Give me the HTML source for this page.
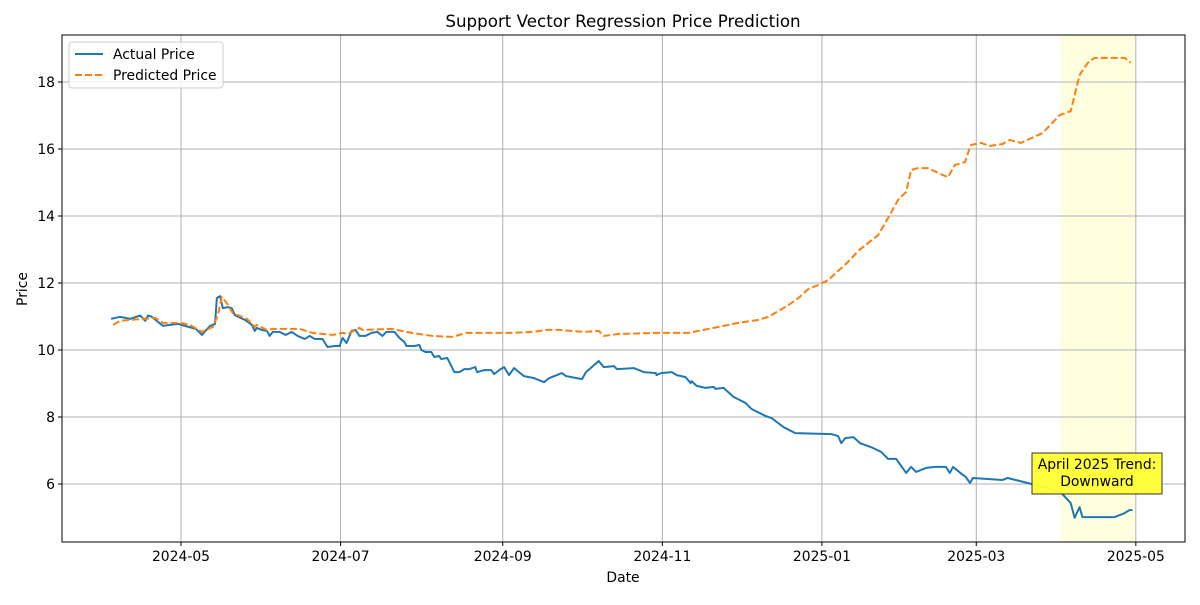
<!DOCTYPE html>
<html><head><meta charset="utf-8"><style>
body{margin:0;background:#fff;font-family:"Liberation Sans","DejaVu Sans",sans-serif}
svg text{font-family:"DejaVu Sans","Liberation Sans",sans-serif}
</style></head><body>
<svg id="chart" width="1200" height="600" xmlns="http://www.w3.org/2000/svg"></svg>
<script>
const tickDays=[0,61,123,184,245,304,365];
const tickLabels=["2024-05","2024-07","2024-09","2024-11","2025-01","2025-03","2025-05"];
const yTicks=[6,8,10,12,14,16,18];
const actualDays=[-26.7,-23.3,-19.4,-15.6,-13.7,-12.6,-11.1,-8.8,-6.9,-4.2,-1.1,1.5,5.7,8.0,11.1,13.0,13.7,14.9,16.0,17.9,19.4,20.6,24.4,27.1,28.2,29.0,30.9,32.8,33.9,35.1,37.7,40.0,42.3,44.6,47.3,49.2,51.1,54.1,56.0,58.7,60.6,61.8,63.3,65.2,66.7,68.2,70.5,72.8,75.1,77.0,78.5,81.6,83.5,85.4,86.2,89.2,91.1,91.9,93.4,95.7,96.8,98.7,99.5,101.8,104.5,106.4,108.3,110.2,112.5,113.2,115.9,118.6,119.7,121.6,123.5,125.4,127.3,129.2,131.1,135.0,138.8,140.7,145.6,147.2,153.3,154.8,159.7,161.6,165.5,166.6,173.1,176.9,181.5,181.8,183.4,187.6,189.5,192.9,194.8,195.2,197.1,200.5,203.6,204.3,207.4,211.2,215.8,216.9,218.1,223.4,225.7,230.3,234.8,248.6,251.2,252.4,253.9,257.0,259.6,263.8,267.6,270.3,273.4,277.2,279.1,281.0,284.8,288.2,292.4,293.9,295.1,298.9,300.0,301.6,302.7,314.1,316.0,323.7,336.2,340.1,341.6,343.5,344.6,356.8,360.7,362.5,363.7];
const actualVals=[10.93,10.99,10.93,11.03,10.87,11.03,10.99,10.84,10.72,10.75,10.78,10.72,10.63,10.45,10.72,10.78,11.55,11.61,11.25,11.28,11.25,11.04,10.90,10.75,10.57,10.66,10.60,10.57,10.42,10.54,10.54,10.45,10.54,10.42,10.33,10.42,10.33,10.33,10.09,10.12,10.12,10.36,10.21,10.57,10.60,10.42,10.42,10.51,10.54,10.42,10.54,10.54,10.36,10.24,10.12,10.12,10.15,10.00,9.94,9.94,9.79,9.82,9.73,9.76,9.34,9.34,9.43,9.43,9.49,9.34,9.40,9.40,9.28,9.40,9.49,9.25,9.46,9.34,9.22,9.16,9.04,9.16,9.31,9.22,9.13,9.34,9.67,9.49,9.52,9.43,9.46,9.34,9.31,9.25,9.31,9.34,9.25,9.19,9.01,9.07,8.93,8.87,8.90,8.84,8.87,8.60,8.42,8.33,8.24,8.03,7.97,7.70,7.52,7.49,7.43,7.22,7.37,7.40,7.22,7.10,6.96,6.75,6.75,6.33,6.51,6.36,6.48,6.51,6.51,6.33,6.51,6.27,6.21,6.03,6.18,6.12,6.18,6.03,5.76,5.43,4.99,5.31,5.01,5.01,5.13,5.22,5.22];
const predDays=[-25.9,-23.3,-14.5,-9.9,-6.9,-0.4,3.4,8.0,12.2,14.1,15.6,17.5,19.8,25.2,28.2,29.0,32.8,35.1,45.4,50.3,58.0,61.8,63.7,68.2,69.4,80.8,88.1,96.1,103.7,109.0,121.6,126.6,134.2,139.9,144.5,154.0,159.7,161.6,167.4,182.6,194.1,197.9,205.5,213.1,220.7,224.6,232.2,236.0,239.8,243.6,247.4,251.2,255.0,258.9,266.5,270.3,274.1,277.2,279.1,281.7,285.5,291.3,293.2,295.8,299.7,301.9,305.8,309.2,314.1,316.8,321.0,329.4,335.9,340.1,343.5,346.6,349.2,360.7,363.0];
const predVals=[10.75,10.87,10.93,10.96,10.81,10.81,10.75,10.54,10.69,11.04,11.58,11.40,11.10,10.93,10.69,10.75,10.60,10.63,10.63,10.51,10.45,10.51,10.48,10.66,10.60,10.63,10.51,10.42,10.39,10.51,10.51,10.51,10.54,10.60,10.60,10.54,10.57,10.42,10.48,10.51,10.51,10.57,10.69,10.81,10.90,10.99,11.34,11.55,11.82,11.94,12.09,12.36,12.63,12.96,13.43,13.94,14.48,14.72,15.37,15.43,15.43,15.22,15.16,15.52,15.61,16.12,16.18,16.09,16.15,16.27,16.18,16.48,17.01,17.13,18.21,18.57,18.72,18.72,18.57];
const spanStart=336.3, spanEnd=365;

const NS="http://www.w3.org/2000/svg";
const svg=document.getElementById('chart');
const L=62,R=1185,T=35,B=542;
const X=d=>181+d*2.616;
const Y=v=>685-v*33.5;
function mk(tag,attrs,parent){const e=document.createElementNS(NS,tag);for(const k in attrs)e.setAttribute(k,attrs[k]);(parent||svg).appendChild(e);return e;}

let t=mk('text',{x:623,y:27,'text-anchor':'middle','font-size':16.7});t.textContent='Support Vector Regression Price Prediction';



let sp=mk('rect',{x:X(spanStart),y:T,width:X(spanEnd)-X(spanStart),height:B-T,fill:'#ffffe0'});



tickDays.forEach((d,i)=>{
  const x=X(d);
  const g=mk('line',{x1:x,x2:x,y1:T,y2:B,stroke:'#b0b0b0','stroke-width':1});
  
  
  mk('line',{x1:x,x2:x,y1:B,y2:B+4,stroke:'#000'});
  const tx=mk('text',{x:x,y:B+19,'text-anchor':'middle','font-size':13.9});tx.textContent=tickLabels[i];
  
  
});
yTicks.forEach(v=>{
  const y=Y(v);
  const g=mk('line',{x1:L,x2:R,y1:y,y2:y,stroke:'#b0b0b0','stroke-width':1});
  
  
  mk('line',{x1:L-4,x2:L,y1:y,y2:y,stroke:'#000'});
  const tx=mk('text',{x:L-7,y:y+5,'text-anchor':'end','font-size':13.9});tx.textContent=v;
  
  
});

const pa=mk('polyline',{points:actualDays.map((d,i)=>X(d)+','+Y(actualVals[i])).join(' '),fill:'none',stroke:'#1f77b4','stroke-width':2,'stroke-linejoin':'round'});


const pp=mk('polyline',{points:predDays.map((d,i)=>X(d)+','+Y(predVals[i])).join(' '),fill:'none',stroke:'#ff7f0e','stroke-width':2,'stroke-dasharray':'7,3','stroke-linejoin':'round'});



const fr=mk('rect',{x:L,y:T,width:R-L,height:B-T,fill:'none',stroke:'#000','stroke-width':1});



let xl=mk('text',{x:623,y:582,'text-anchor':'middle','font-size':13.9});xl.textContent='Date';


let yl=mk('text',{x:0,y:0,'text-anchor':'middle','font-size':13.9,transform:'translate(27,289) rotate(-90)'});yl.textContent='Price';



const ag=mk('g',{});


mk('rect',{x:1032,y:453,width:130,height:41,fill:'#ffff33','fill-opacity':0.95,stroke:'#333','stroke-width':1},ag);
let a1=mk('text',{x:1097,y:469,'text-anchor':'middle','font-size':13.9},ag);a1.textContent='April 2025 Trend:';
let a2=mk('text',{x:1097,y:486,'text-anchor':'middle','font-size':13.9},ag);a2.textContent='Downward';

const lg=mk('g',{});


mk('rect',{x:69,y:42,width:154,height:46,rx:3,fill:'#fff','fill-opacity':0.8,stroke:'#ccc'},lg);
mk('line',{x1:75,x2:103,y1:54,y2:54,stroke:'#1f77b4','stroke-width':2},lg);
let l1=mk('text',{x:113,y:59,'font-size':13.9},lg);l1.textContent='Actual Price';


mk('line',{x1:75,x2:103,y1:75,y2:75,stroke:'#ff7f0e','stroke-width':2,'stroke-dasharray':'7,3'},lg);
let l2=mk('text',{x:113,y:80,'font-size':13.9},lg);l2.textContent='Predicted Price';


</script>
</body></html>
